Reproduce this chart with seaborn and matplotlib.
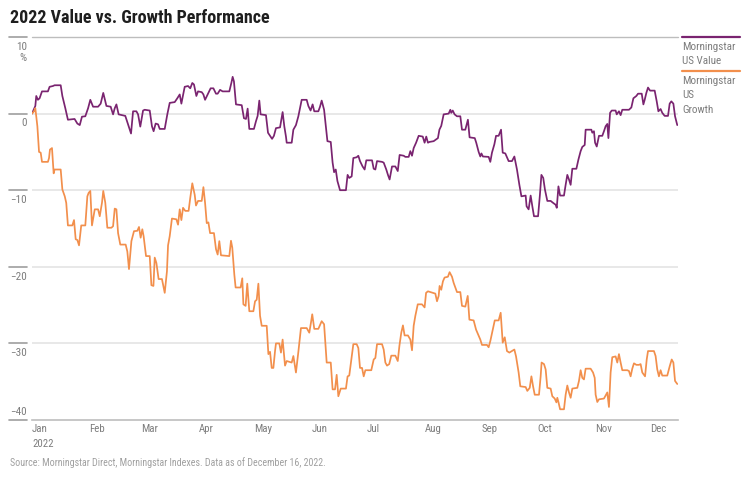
import numpy as np
import pandas as pd
import matplotlib
matplotlib.use("Agg")
import matplotlib.pyplot as plt
import matplotlib.transforms as mtransforms
import seaborn as sns

# Cumulative return (%) since the start of 2022.
# Days are counted from 1 January 2022.
value_days = [
  0, 1.8, 2.3, 3.2, 4.1, 5.4, 8.6, 9.5, 11.3, 12.2, 15.5, 16.4, 18.0, 19.4, 23.0, 24.5,
  25.8, 27.0, 28.8, 30.3, 31.5, 33.0, 35.7, 37.1, 38.5, 40.2, 42.5, 43.8, 44.7, 45.6, 46.8,
  50.4, 51.9, 53.5, 54.6, 56.4, 57.3, 58.5, 60.0, 60.9, 63.6, 64.8, 65.7, 66.8, 68.1, 69.0,
  71.7, 73.1, 74.4, 77.1, 78.5, 79.8, 80.7, 82.5, 84.3, 85.5, 86.6, 87.5, 88.8, 89.7,
  91.7, 92.6, 93.5, 94.7, 96.5, 98.0, 99.4, 100.3, 101.6, 103.0, 106.6, 107.7, 108.4, 109.1,
  110.2, 113.3, 114.5, 115.6, 116.5, 117.4, 119.9, 121.0, 121.9, 122.8, 123.5, 126.4, 127.5,
  128.6, 129.7, 130.7, 131.8, 134.0, 135.4, 136.3, 137.2, 137.6, 140.3, 141.2, 142.6, 143.9,
  145.7, 148.4, 149.3, 150.5, 151.6, 152.5, 154.7, 155.6, 156.5, 157.8, 159.6, 161.4, 162.4,
  163.2, 164.1, 165.0, 166.4, 169.6, 170.5, 171.4, 172.7, 173.6, 175.4, 176.3, 177.2,
  178.6, 179.7, 180.6, 183.7, 184.6, 185.5, 186.4, 189.1, 190.0, 191.4, 192.3, 193.2, 194.5,
  196.3, 197.6, 198.6, 200.8, 201.7, 203.5, 204.4, 205.3, 206.2, 207.5, 208.9, 211.1, 212.1,
  213.0, 213.9, 214.7, 217.0, 219.3, 220.1, 221.1, 222.4, 225.1, 226.0, 226.5, 227.3, 228.3,
  229.6, 231.4, 232.3, 234.1, 235.5, 236.4, 239.2, 240.0, 241.3, 242.2, 242.8, 243.6, 246.7,
  247.6, 248.5, 249.8, 250.7, 252.1, 253.4, 254.3, 255.7, 257.5, 259.3, 260.6, 261.1, 262.0,
  263.3, 264.4,
  266.7, 267.2, 268.3, 269.4, 270.3, 271.2, 273.4, 274.4, 275.2, 276.2, 277.1, 278.4, 280.2,
  281.5, 282.9, 283.5, 284.4, 285.3, 287.4, 288.3, 289.2, 290.1, 291.0, 291.9, 294.1, 295.2,
  296.4, 297.3, 298.6, 299.1, 302.2, 302.7, 303.6, 304.2, 305.1, 306.3, 308.1, 309.0, 309.9,
  310.8, 311.4, 312.3, 313.2, 315.3, 315.9, 317.1, 318.0, 318.9, 322.5, 323.8, 324.9, 326.5,
  327.4, 329.4, 330.3, 331.0, 331.9, 332.8, 333.9, 336.4, 337.5, 338.4, 339.6, 340.5, 341.8,
  343.6, 344.5, 345.4, 346.5, 347.4, 348.6,
]
value_pct = [
  0, 1.0, 2.3, 1.8, 2.0, 2.9, 2.9, 3.5, 3.6, 3.7, 3.7, 2.3, 0.7, -0.8, -0.7, -1.3,
  -1.5, -0.4, -0.35, 0.7, 1.8, 0.9, 0.9, 1.3, 2.7, 1.0, 0.9, -0.1, 0.7, 1.2, -0.1,
  -0.3, -1.4, -2.6, 0.3, 0.3, -0.1, -1.7, 0.4, 0.5, 0.4, -1.65, -2.3, -1.3, -1.4, -2.0,
  -2.0, -0.1, 1.4, 1.5, 2.0, 2.5, 1.3, 3.5, 3.6, 3.3, 4.0, 3.8, 2.3, 2.9,
  2.8, 2.5, 1.8, 2.4, 3.3, 3.3, 2.6, 2.6, 3.1, 2.9, 2.9, 4.0, 4.8, 4.2,
  1.2, 1.1, -0.6, -0.7, 0.65, -2.0, -2.0, -1.0, -0.3, 1.7, -0.1, -0.2, -2.5,
  -2.9, -3.3, -2.9, -1.9, -1.8, 0.2, -1.65, -3.0, -3.8, -3.8, -2.1, -1.5, -0.35,
  1.8, 1.8, 1.0, 0.4, 1.2, 0.3, 0.3, 0.9, 1.7, 0.5, -3.6, -3.7, -6.4,
  -7.65, -7.3, -8.8, -10.0, -10.0, -8.0, -8.4, -8.2, -5.8, -5.7, -5.5, -6.2,
  -6.9, -7.3, -6.1, -6.1, -7.2, -7.3, -6.2, -6.3, -6.4, -7.3, -8.0, -8.6, -6.9,
  -6.9, -7.5, -5.4, -5.5, -5.65, -5.65, -4.9, -5.5, -4.5, -3.8, -2.9, -3.0, -3.8,
  -3.0, -3.8, -3.7, -3.6, -3.2, -2.1, -1.6, -0.1, 0.0, 0.5, 0.1, 0.4, -0.1,
  -0.35, -0.35, -2.1, -2.1, -0.8, -3.1, -3.2, -3.8, -5.0, -5.6, -5.2, -5.6, -5.65,
  -6.3, -5.1, -4.0, -2.9, -2.9, -2.1, -5.1, -5.2, -6.2, -6.2, -5.6, -6.2, -7.3,
  -9.3, -10.8,
  -10.7, -12.1, -12.5, -10.7, -12.1, -13.4, -13.4, -10.6, -8.0, -8.4, -9.9, -11.4, -11.4,
  -11.65, -11.9, -12.3, -9.5, -10.7, -10.7, -9.3, -8.0, -8.6, -9.3, -7.2, -7.2, -6.0,
  -4.9, -4.35, -4.1, -2.1, -2.1, -2.5, -2.3, -3.8, -4.3, -2.9, -2.9, -2.3, -1.65,
  -1.35, -3.2, 0.1, 0.4, 0.4, -0.1, 0.3, -0.2, 0.5, 0.5, 0.8, 2.0, 2.3,
  2.6, 2.6, 1.2, 1.8, 2.7, 3.4, 3.0, 3.0, 1.6, 0.3, 0.6, 0.1, -0.3,
  -0.3, 1.3, 1.6, 1.3, -0.35, -1.5,
]

growth_days = [
  0, 1.1, 1.8, 2.9, 3.8, 4.7, 5.4, 8.6, 9.2, 9.7, 10.8, 11.7, 12.2, 15.5, 16.4, 17.7,
  18.5, 19.4, 21.8, 22.7, 23.6, 24.5, 25.4, 26.6, 28.8, 29.9, 30.6, 31.5, 32.4, 33.9, 35.7,
  36.6, 37.8, 38.5, 39.6, 40.7, 42.9, 43.8, 44.7, 45.6, 46.5, 47.7, 50.6, 51.5, 52.4, 53.7,
  55.1, 56.9, 57.8, 58.7, 59.6, 60.3, 61.6, 63.6, 64.5, 65.6, 66.3, 67.2, 68.4, 70.2, 71.7,
  72.9, 73.5, 74.4, 75.6, 78.0, 78.9, 79.8, 80.7, 81.6, 82.8, 84.6, 85.5, 86.6, 87.9, 88.6,
  89.7,
  91.7, 92.6, 93.5, 94.4, 95.3, 96.2, 98.3, 99.4, 100.3, 101.2, 102.1, 106.6, 107.5, 108.2,
  109.3, 110.0, 112.7, 113.6, 114.2, 115.4, 116.3, 117.4, 119.6, 120.5, 121.4, 122.3, 123.2,
  124.1, 126.8, 127.7, 128.6, 129.5, 130.4, 131.3, 131.8, 133.6, 134.5, 135.4, 136.7, 137.6,
  140.3, 141.2, 142.6, 143.9, 145.3, 148.4, 149.8, 150.7, 151.4, 152.5, 154.7, 156.5, 157.8,
  159.2, 161.4, 162.4, 163.7, 164.6, 165.5, 166.8, 169.6, 170.5, 171.4, 172.3, 173.6, 175.4,
  176.3, 177.2,
  178.3, 179.2, 180.1, 183.3, 184.6, 185.5, 186.4, 189.1, 190.0, 190.9, 191.8, 193.0, 194.1,
  196.3, 197.6, 198.5, 199.5, 200.4, 201.3, 203.1, 204.4, 205.3, 206.2, 207.1, 208.4, 210.7,
  212.1, 212.9, 213.9, 215.2, 217.9, 218.8, 219.7, 220.2, 221.1, 222.0, 222.9, 224.7, 225.6,
  226.9, 227.8, 229.6, 231.4, 232.3, 234.1, 235.4, 236.3, 238.6, 239.9, 241.3, 242.2, 243.1,
  245.8, 246.7, 247.6, 248.5, 250.0, 252.1, 253.2, 254.3, 255.4, 256.6, 257.9, 260.6, 261.5,
  262.9, 263.8,
  266.7, 267.6, 268.9, 269.8, 270.7, 271.6, 273.9, 274.8, 275.3, 276.6, 277.5, 278.4, 280.2,
  281.1, 282.4, 283.3, 283.8, 284.4, 285.3, 287.4, 288.3, 289.2, 290.1, 291.0, 291.9, 294.6,
  295.5, 296.4, 297.3, 298.2, 299.1, 301.8, 303.1, 304.0, 304.5, 305.4, 306.3, 309.0, 309.9,
  310.8, 311.7, 312.6, 313.5, 315.3, 316.2, 317.1, 318.0, 318.9, 321.6, 322.5, 323.4, 324.3,
  325.2, 326.5, 327.9, 328.8, 329.7, 331.2, 332.1, 332.8, 336.0, 336.9, 337.8, 338.7, 339.6,
  340.5, 343.2, 344.5, 345.6, 346.5, 347.4, 348.6,
]
growth_pct = [
  0, 0.3, 0.7, -1.65, -5.0, -5.1, -6.3, -6.3, -5.8, -4.7, -4.5, -7.8, -7.3, -7.3, -9.9, -10.8,
  -11.65, -14.6, -14.6, -13.9, -16.4, -16.5, -17.2, -14.6, -14.6, -10.8, -10.35, -10.1, -14.6, -12.5, -12.5,
  -13.4, -11.65, -10.1, -11.65, -14.9, -14.9, -14.7, -12.4, -12.5, -15.6, -17.1, -17.1, -18.0, -20.3, -16.65,
  -15.35, -15.3, -14.8, -16.2, -15.1, -16.0, -18.6, -18.6, -22.4, -22.5, -18.8, -19.5, -21.6, -21.6, -23.4,
  -20.6, -17.2, -16.0, -13.7, -13.8, -14.5, -12.5, -13.9, -12.3, -12.7, -12.7, -11.0, -9.1, -10.6, -12.0,
  -11.4,
  -11.4, -9.6, -11.65, -14.3, -14.2, -15.6, -15.6, -17.7, -18.4, -16.65, -18.5, -18.6, -16.6, -17.5,
  -21.0, -22.7, -22.7, -21.5, -24.9, -25.1, -22.2, -25.8, -25.8, -24.5, -24.3, -22.2, -26.4,
  -27.7, -27.7, -31.4, -31.1, -33.2, -33.2, -31.0, -30.0, -30.0, -31.2, -29.5, -32.9, -32.3,
  -32.5, -31.65, -33.8, -31.1, -28.0, -28.0, -28.6, -27.3, -26.2, -28.1, -28.1, -27.1, -27.5,
  -32.5, -32.5, -36.0, -36.0, -34.1, -36.9, -35.9, -35.9, -34.3, -34.2, -32.5, -30.1, -30.1,
  -30.6, -33.2,
  -33.2, -34.3, -33.5, -33.5, -32.1, -31.9, -30.1, -30.1, -30.8, -32.5, -32.9, -32.7, -31.6,
  -31.6, -32.3, -30.3, -28.6, -27.65, -28.96, -28.96, -29.5, -30.9, -27.7, -26.4, -24.9, -24.9,
  -25.3, -23.4, -23.2, -23.3, -23.5, -24.5, -23.8, -22.5, -23.0, -21.9, -21.4, -21.3, -20.7,
  -21.3, -22.1, -23.3, -23.3, -25.1, -25.2, -23.8, -26.9, -27.0, -28.2, -29.0, -29.5, -30.2,
  -30.2, -30.5, -29.7, -28.7, -27.0, -27.0, -26.0, -29.9, -29.2, -31.0, -31.2, -30.8, -31.7,
  -33.8, -35.6,
  -35.7, -36.2, -35.8, -34.3, -35.6, -36.7, -36.7, -34.3, -32.5, -32.7, -33.4, -35.8, -35.9,
  -36.9, -37.2, -37.7, -37.1, -37.65, -38.6, -38.6, -36.7, -35.5, -36.4, -37.1, -35.9, -35.8,
  -34.9, -33.5, -34.5, -34.7, -33.3, -33.3, -33.8, -34.5, -36.7, -37.65, -37.3, -37.2, -36.8,
  -36.4, -38.3, -33.8, -31.8, -31.7, -32.5, -31.4, -32.5, -33.5, -33.5, -33.6, -34.3, -33.3,
  -32.6, -32.8, -32.8, -32.7, -33.8, -34.3, -32.1, -31.0, -31.0, -31.65, -33.4, -34.3, -33.5,
  -34.2, -34.2, -33.0, -32.1, -32.5, -34.9, -35.3,
]

series_names = ["Morningstar US Value", "Morningstar US Growth"]
legend_labels = ["Morningstar\nUS Value", "Morningstar\nUS\nGrowth"]
colors = ["#7a2470", "#f28f4c"]
y_ticks = [10, 0, -10, -20, -30, -40]
month_labels = ["Jan\n2022", "Feb", "Mar", "Apr", "May", "Jun", "Jul", "Aug", "Sep", "Oct", "Nov", "Dec"]

base = pd.Timestamp("2022-01-01")
end = pd.Timestamp("2022-12-16")

df = pd.concat([
  pd.DataFrame({"date": base + pd.to_timedelta(value_days, unit="D"),
                "pct": value_pct, "series": series_names[0]}),
  pd.DataFrame({"date": base + pd.to_timedelta(growth_days, unit="D"),
                "pct": growth_pct, "series": series_names[1]}),
], ignore_index=True)

sns.set_style("white")
plt.rcParams["font.family"] = ["Roboto Condensed", "DejaVu Sans"]

GREY = "#7d7d7d"
W, H = 756, 482
fig = plt.figure(figsize=(W / 100, H / 100), dpi=100)
ax = fig.add_axes([32 / W, 62 / H, 646 / W, 383 / H])

sns.lineplot(data=df, x="date", y="pct", hue="series", palette=dict(zip(series_names, colors)),
             estimator=None, sort=False, linewidth=1.25, legend=False, ax=ax, zorder=3)

ax.set_xlim(base, end)
ax.set_ylim(-40, 10)
ax.set_xlabel("")
ax.set_ylabel("")
for s in ["left", "right", "top"]:
  ax.spines[s].set_visible(False)
ax.spines["bottom"].set_color("#bdbdbd")
ax.spines["bottom"].set_linewidth(1.2)

# Horizontal grid lines
for y in y_ticks[1:-1]:
  ax.axhline(y, color="#e4e4e4", linewidth=1.2, zorder=1)
ax.axhline(10, color="#bdbdbd", linewidth=1.0, zorder=1, clip_on=False)

# Y labels with short marks to the left of the plot
ax.set_yticks([])
trans = mtransforms.blended_transform_factory(ax.transAxes, ax.transData)
for y in y_ticks:
  ax.plot([-23 / 646, -5 / 646], [y, y], transform=trans, color="#9e9e9e", linewidth=1.2, clip_on=False)
  lab = ("\u2212" + str(abs(y))) if y < 0 else str(y)
  if y == -40:
    ax.annotate(lab, (-5 / 646, y), xycoords=trans, xytext=(0, 2), textcoords="offset points",
                ha="right", va="bottom", fontsize=8, color=GREY)
  else:
    ax.annotate(lab, (-5 / 646, y), xycoords=trans, xytext=(0, -3.5), textcoords="offset points",
                ha="right", va="top", fontsize=8, color=GREY)
ax.annotate("%", (-5 / 646, 10), xycoords=trans, xytext=(0, -11.5), textcoords="offset points",
            ha="right", va="top", fontsize=8, color=GREY)

# Month ticks, left aligned at the first of each month
ticks = pd.date_range("2022-01-01", "2022-12-01", freq="MS")
ax.set_xticks(ticks)
ax.set_xticklabels(month_labels, ha="left", fontsize=7.8, color=GREY, linespacing=1.6)
ax.tick_params(axis="x", length=0, pad=3)

# Legend on the right: coloured rule above each label
for i, (lab, c) in enumerate(zip(legend_labels, colors)):
  y0 = [1.0, 0.911][i]
  ax.plot([1.006, 1.096], [y0, y0], transform=ax.transAxes, color=c, linewidth=1.6, clip_on=False)
  ax.text(1.006, y0 - 0.013, lab, transform=ax.transAxes, ha="left", va="top",
          fontsize=8, color=GREY, linespacing=1.55)

fig.text(10 / W, 1 - 18 / H, "2022 Value vs. Growth Performance", ha="left", va="center",
         fontsize=13, fontweight="bold", color="#1e1e1e")
fig.text(10 / W, 1 - 463 / H, "Source: Morningstar Direct, Morningstar Indexes. Data as of December 16, 2022.",
         ha="left", va="center", fontsize=7.2, color="#a0a0a0")

fig.savefig("out.png", dpi=100)
